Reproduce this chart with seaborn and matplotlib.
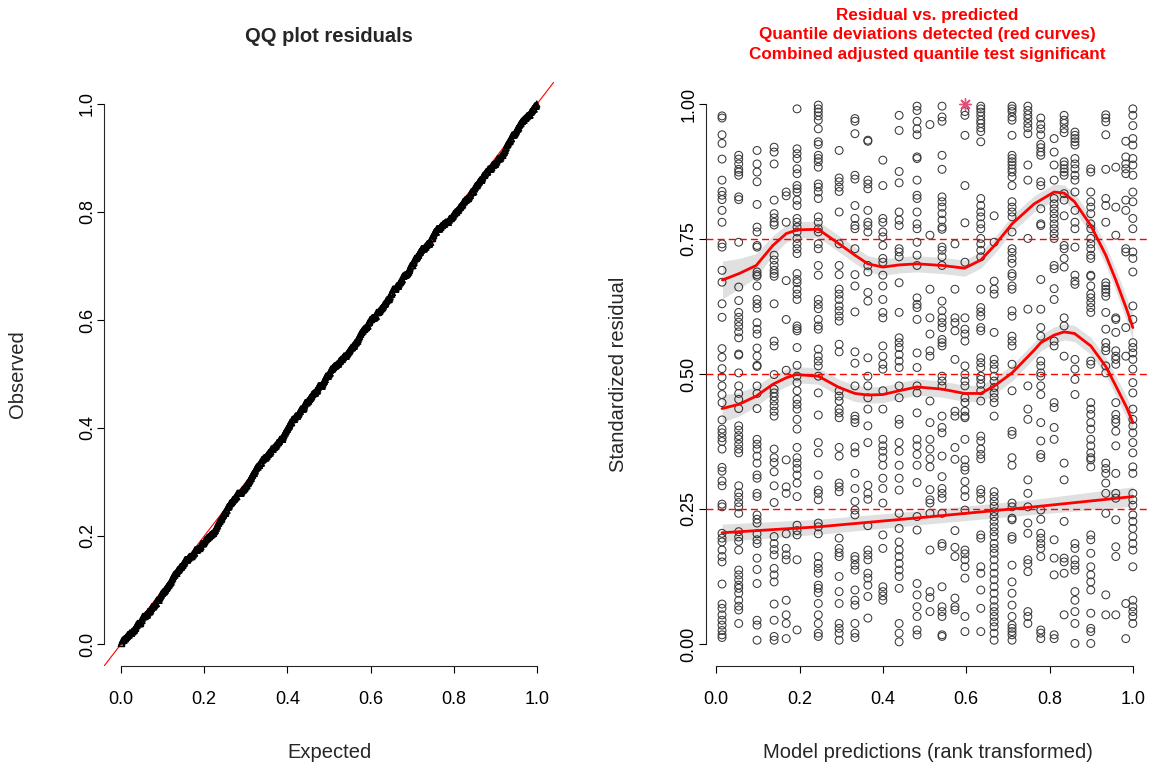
import numpy as np
import pandas as pd
import matplotlib
matplotlib.use("Agg")
import matplotlib.pyplot as plt
import seaborn as sns

# ---------------------------------------------------------------------------
# Scaled (quantile) residuals grouped by rank-transformed model prediction
# ---------------------------------------------------------------------------
pred_x = [0.014, 0.054, 0.098, 0.139, 0.168, 0.194, 0.245, 0.295, 0.333, 0.364,
          0.400, 0.439, 0.482, 0.513, 0.542, 0.573, 0.597, 0.635, 0.667, 0.710,
          0.748, 0.779, 0.811, 0.835, 0.861, 0.899, 0.935, 0.959, 0.983, 1.000]

r01 = [0.978, 0.974, 0.943, 0.927, 0.898, 0.859, 0.838, 0.831, 0.823, 0.803, 0.781, 0.741, 0.735,
       0.692, 0.670, 0.630, 0.605, 0.547, 0.531, 0.510, 0.494, 0.478, 0.462, 0.447, 0.415, 0.398,
       0.391, 0.382, 0.375, 0.361, 0.327, 0.320, 0.302, 0.293, 0.259, 0.254, 0.205, 0.196, 0.189,
       0.174, 0.162, 0.152, 0.111, 0.074, 0.066, 0.054, 0.044, 0.035, 0.025, 0.017, 0.012]
r02 = [0.905, 0.898, 0.889, 0.879, 0.874, 0.868, 0.828, 0.823, 0.744, 0.661, 0.636, 0.614, 0.605,
       0.596, 0.588, 0.578, 0.567, 0.537, 0.535, 0.502, 0.478, 0.464, 0.453, 0.436, 0.404, 0.396,
       0.386, 0.379, 0.370, 0.361, 0.354, 0.293, 0.280, 0.272, 0.262, 0.254, 0.242, 0.208, 0.198,
       0.190, 0.174, 0.137, 0.128, 0.119, 0.109, 0.103, 0.094, 0.081, 0.070, 0.063, 0.038]
r03 = [0.914, 0.889, 0.874, 0.856, 0.814, 0.772, 0.763, 0.738, 0.735, 0.689, 0.684, 0.681, 0.663,
       0.638, 0.630, 0.622, 0.595, 0.583, 0.574, 0.548, 0.533, 0.516, 0.514, 0.478, 0.464, 0.436,
       0.379, 0.370, 0.361, 0.348, 0.335, 0.313, 0.307, 0.279, 0.273, 0.239, 0.231, 0.224, 0.204,
       0.193, 0.186, 0.159, 0.138, 0.112, 0.044, 0.035, 0.007]
r04 = [0.920, 0.911, 0.889, 0.822, 0.797, 0.789, 0.781, 0.776, 0.720, 0.711, 0.701, 0.692, 0.686,
       0.681, 0.630, 0.561, 0.552, 0.499, 0.472, 0.465, 0.458, 0.450, 0.441, 0.431, 0.422, 0.361,
       0.345, 0.336, 0.319, 0.293, 0.262, 0.199, 0.186, 0.175, 0.165, 0.140, 0.128, 0.115, 0.074,
       0.044, 0.014, 0.007]
r05 = [0.837, 0.830, 0.781, 0.673, 0.601, 0.507, 0.341, 0.291, 0.279, 0.204, 0.177, 0.165, 0.156,
       0.081, 0.054, 0.038, 0.010]
r06 = [0.991, 0.917, 0.908, 0.899, 0.880, 0.871, 0.849, 0.843, 0.837, 0.822, 0.812, 0.788, 0.781,
       0.772, 0.763, 0.751, 0.741, 0.732, 0.723, 0.686, 0.675, 0.669, 0.657, 0.648, 0.638, 0.589,
       0.584, 0.580, 0.549, 0.516, 0.496, 0.484, 0.469, 0.453, 0.444, 0.435, 0.416, 0.398, 0.364,
       0.345, 0.335, 0.325, 0.313, 0.298, 0.273, 0.220, 0.210, 0.202, 0.156, 0.026]
r07 = [0.998, 0.991, 0.985, 0.978, 0.970, 0.954, 0.930, 0.925, 0.905, 0.899, 0.893, 0.883, 0.852,
       0.846, 0.837, 0.825, 0.791, 0.781, 0.769, 0.763, 0.741, 0.732, 0.701, 0.683, 0.638, 0.629,
       0.621, 0.601, 0.589, 0.583, 0.546, 0.533, 0.524, 0.515, 0.496, 0.465, 0.424, 0.373, 0.354,
       0.313, 0.285, 0.279, 0.267, 0.224, 0.217, 0.204, 0.162, 0.149, 0.140, 0.131, 0.109, 0.103,
       0.095, 0.075, 0.054, 0.038, 0.020, 0.014]
r08 = [0.914, 0.863, 0.856, 0.846, 0.838, 0.800, 0.741, 0.701, 0.684, 0.657, 0.648, 0.638, 0.626,
       0.617, 0.607, 0.598, 0.555, 0.541, 0.469, 0.459, 0.450, 0.435, 0.428, 0.419, 0.364, 0.348,
       0.298, 0.291, 0.282, 0.196, 0.177, 0.169, 0.162, 0.125, 0.097, 0.075, 0.038, 0.029, 0.020,
       0.007]
r09 = [0.973, 0.968, 0.945, 0.868, 0.861, 0.812, 0.788, 0.775, 0.769, 0.732, 0.684, 0.663, 0.615,
       0.541, 0.520, 0.478, 0.422, 0.416, 0.410, 0.365, 0.354, 0.316, 0.288, 0.264, 0.248, 0.239,
       0.162, 0.156, 0.146, 0.137, 0.100, 0.081, 0.072, 0.038, 0.020, 0.012]
r10 = [0.933, 0.931, 0.859, 0.852, 0.843, 0.803, 0.781, 0.775, 0.763, 0.701, 0.689, 0.651, 0.635,
       0.530, 0.496, 0.478, 0.456, 0.435, 0.404, 0.373, 0.294, 0.279, 0.268, 0.219, 0.174, 0.165,
       0.156, 0.131, 0.122, 0.109, 0.088, 0.048]
r11 = [0.896, 0.849, 0.788, 0.781, 0.763, 0.754, 0.738, 0.714, 0.707, 0.683, 0.663, 0.638, 0.614,
       0.604, 0.552, 0.533, 0.518, 0.509, 0.469, 0.435, 0.379, 0.367, 0.357, 0.345, 0.331, 0.307,
       0.288, 0.261, 0.202, 0.177, 0.106, 0.097, 0.089, 0.081]
r12 = [0.979, 0.951, 0.875, 0.854, 0.800, 0.785, 0.775, 0.732, 0.726, 0.717, 0.669, 0.614, 0.567,
       0.558, 0.549, 0.536, 0.524, 0.512, 0.478, 0.456, 0.416, 0.407, 0.373, 0.357, 0.331, 0.307,
       0.285, 0.242, 0.214, 0.189, 0.174, 0.162, 0.149, 0.137, 0.125, 0.103, 0.038, 0.020, 0.004]
r13 = [0.996, 0.988, 0.968, 0.954, 0.943, 0.902, 0.899, 0.859, 0.831, 0.825, 0.800, 0.778, 0.769,
       0.744, 0.720, 0.701, 0.641, 0.629, 0.623, 0.601, 0.539, 0.512, 0.478, 0.465, 0.428, 0.379,
       0.367, 0.351, 0.331, 0.299, 0.236, 0.211, 0.112, 0.091, 0.069, 0.051, 0.026, 0.017]
r14 = [0.962, 0.757, 0.657, 0.604, 0.574, 0.543, 0.533, 0.450, 0.410, 0.379, 0.361, 0.343, 0.328,
       0.286, 0.267, 0.261, 0.242, 0.174, 0.097, 0.086, 0.060]
r15 = [0.996, 0.976, 0.968, 0.905, 0.879, 0.828, 0.819, 0.809, 0.797, 0.785, 0.772, 0.768, 0.735,
       0.729, 0.717, 0.701, 0.635, 0.617, 0.604, 0.595, 0.586, 0.564, 0.558, 0.552, 0.496, 0.487,
       0.478, 0.422, 0.401, 0.391, 0.348, 0.310, 0.288, 0.279, 0.270, 0.242, 0.186, 0.181, 0.106,
       0.069, 0.060, 0.051, 0.017, 0.014]
r16 = [0.741, 0.657, 0.604, 0.595, 0.580, 0.527, 0.431, 0.422, 0.364, 0.342, 0.210, 0.179, 0.162,
       0.085, 0.069, 0.063]
r17 = [0.986, 0.979, 0.942, 0.849, 0.780, 0.707, 0.604, 0.583, 0.574, 0.561, 0.515, 0.499, 0.487,
       0.478, 0.456, 0.447, 0.431, 0.422, 0.419, 0.379, 0.341, 0.328, 0.322, 0.301, 0.285, 0.273,
       0.248, 0.174, 0.167, 0.156, 0.143, 0.122, 0.051, 0.023]
r18 = [0.996, 0.991, 0.985, 0.978, 0.970, 0.964, 0.956, 0.949, 0.930, 0.825, 0.812, 0.800, 0.791,
       0.778, 0.769, 0.751, 0.741, 0.729, 0.717, 0.657, 0.623, 0.615, 0.607, 0.586, 0.580, 0.530,
       0.521, 0.512, 0.496, 0.490, 0.481, 0.469, 0.450, 0.385, 0.376, 0.361, 0.351, 0.343, 0.286,
       0.279, 0.268, 0.202, 0.196, 0.143, 0.131, 0.100, 0.066, 0.023]
r19 = [0.793, 0.744, 0.672, 0.657, 0.648, 0.577, 0.527, 0.518, 0.509, 0.496, 0.487, 0.475, 0.465,
       0.456, 0.447, 0.422, 0.282, 0.273, 0.264, 0.255, 0.245, 0.236, 0.227, 0.217, 0.208, 0.199,
       0.186, 0.177, 0.168, 0.156, 0.143, 0.131, 0.119, 0.106, 0.094, 0.081, 0.069, 0.060, 0.051,
       0.041, 0.032, 0.020, 0.007]
r20 = [0.996, 0.991, 0.986, 0.976, 0.970, 0.942, 0.905, 0.899, 0.893, 0.887, 0.880, 0.874, 0.865,
       0.849, 0.819, 0.809, 0.800, 0.791, 0.763, 0.732, 0.725, 0.714, 0.705, 0.686, 0.681, 0.663,
       0.657, 0.617, 0.607, 0.570, 0.561, 0.552, 0.518, 0.469, 0.394, 0.388, 0.345, 0.331, 0.261,
       0.254, 0.233, 0.230, 0.199, 0.194, 0.146, 0.115, 0.094, 0.072, 0.051, 0.035, 0.029, 0.023,
       0.017, 0.007]
r21 = [0.996, 0.988, 0.980, 0.973, 0.964, 0.956, 0.945, 0.887, 0.859, 0.751, 0.620, 0.478, 0.435,
       0.416, 0.304, 0.279, 0.254, 0.224, 0.205, 0.156, 0.149, 0.134, 0.060, 0.051, 0.038]
r22 = [0.974, 0.962, 0.954, 0.943, 0.925, 0.919, 0.911, 0.905, 0.856, 0.849, 0.806, 0.778, 0.775,
       0.675, 0.620, 0.586, 0.570, 0.524, 0.515, 0.502, 0.496, 0.478, 0.462, 0.410, 0.376, 0.351,
       0.345, 0.248, 0.231, 0.205, 0.196, 0.186, 0.177, 0.162, 0.026, 0.020, 0.010]
r23 = [0.936, 0.911, 0.887, 0.859, 0.825, 0.815, 0.806, 0.797, 0.788, 0.778, 0.769, 0.760, 0.751,
       0.701, 0.695, 0.658, 0.638, 0.561, 0.552, 0.447, 0.438, 0.401, 0.379, 0.193, 0.159, 0.128,
       0.017, 0.010]
r24 = [0.979, 0.970, 0.964, 0.954, 0.947, 0.893, 0.887, 0.880, 0.874, 0.868, 0.834, 0.822, 0.793,
       0.738, 0.732, 0.714, 0.698, 0.604, 0.589, 0.533, 0.335, 0.304, 0.227, 0.159, 0.152, 0.131,
       0.054]
r25 = [0.948, 0.942, 0.936, 0.930, 0.924, 0.899, 0.889, 0.880, 0.868, 0.859, 0.837, 0.803, 0.781,
       0.769, 0.735, 0.683, 0.672, 0.666, 0.527, 0.509, 0.490, 0.462, 0.186, 0.177, 0.156, 0.146,
       0.137, 0.097, 0.081, 0.060, 0.038, 0.001]
r26 = [0.880, 0.874, 0.837, 0.819, 0.809, 0.797, 0.778, 0.769, 0.751, 0.741, 0.732, 0.720, 0.714,
       0.683, 0.681, 0.663, 0.648, 0.641, 0.632, 0.623, 0.614, 0.524, 0.518, 0.447, 0.435, 0.425,
       0.410, 0.398, 0.379, 0.367, 0.354, 0.345, 0.341, 0.328, 0.202, 0.193, 0.168, 0.143, 0.128,
       0.115, 0.100, 0.057, 0.029, 0.023, 0.001]
r27 = [0.980, 0.974, 0.967, 0.943, 0.879, 0.825, 0.812, 0.781, 0.669, 0.663, 0.657, 0.651, 0.644,
       0.614, 0.583, 0.558, 0.549, 0.543, 0.515, 0.502, 0.335, 0.325, 0.316, 0.298, 0.279, 0.242,
       0.091, 0.054]
r28 = [0.883, 0.809, 0.757, 0.604, 0.601, 0.577, 0.543, 0.533, 0.527, 0.518, 0.447, 0.425, 0.416,
       0.410, 0.394, 0.367, 0.316, 0.279, 0.270, 0.230, 0.180, 0.162, 0.054]
r29 = [0.931, 0.902, 0.889, 0.880, 0.871, 0.822, 0.803, 0.732, 0.726, 0.586, 0.533, 0.075, 0.010]
r30 = [0.991, 0.979, 0.960, 0.936, 0.924, 0.899, 0.887, 0.868, 0.837, 0.819, 0.788, 0.769, 0.726,
       0.714, 0.689, 0.626, 0.601, 0.558, 0.549, 0.539, 0.527, 0.509, 0.484, 0.465, 0.435, 0.416,
       0.404, 0.391, 0.373, 0.354, 0.328, 0.316, 0.279, 0.267, 0.257, 0.239, 0.227, 0.214, 0.199,
       0.186, 0.174, 0.143, 0.081, 0.069, 0.060, 0.051, 0.038]

# residual flagged as outlier (drawn as a star)
outlier_x = [0.597]
outlier_y = [1.000]

# fitted quantile regressions (tau = 0.75, 0.5, 0.25) with half-width of their bands
q75_x = [0.015, 0.055, 0.096, 0.136, 0.168, 0.195, 0.245, 0.295, 0.333, 0.364, 0.400, 0.439,
         0.482, 0.542, 0.596, 0.635, 0.668, 0.710, 0.763, 0.811, 0.835, 0.860, 0.899, 0.935,
         0.959, 0.985, 1.000]
q75_y = [0.674, 0.686, 0.701, 0.738, 0.760, 0.767, 0.768, 0.741, 0.720, 0.704, 0.698, 0.702,
         0.704, 0.701, 0.696, 0.711, 0.738, 0.778, 0.815, 0.837, 0.835, 0.819, 0.775, 0.720,
         0.674, 0.620, 0.586]
q75_hw = [0.035, 0.028, 0.022, 0.018, 0.016, 0.015, 0.015, 0.015, 0.015, 0.015, 0.015, 0.015,
          0.015, 0.015, 0.015, 0.015, 0.015, 0.015, 0.015, 0.015, 0.015, 0.016, 0.017, 0.018,
          0.020, 0.022, 0.025]

q50_x = [0.014, 0.055, 0.096, 0.136, 0.168, 0.192, 0.245, 0.295, 0.333, 0.364, 0.400, 0.439,
         0.482, 0.542, 0.596, 0.635, 0.668, 0.710, 0.763, 0.779, 0.811, 0.835, 0.860, 0.899,
         0.935, 0.959, 0.985, 1.000]
q50_y = [0.436, 0.444, 0.459, 0.481, 0.493, 0.499, 0.496, 0.475, 0.464, 0.461, 0.462, 0.469,
         0.476, 0.472, 0.464, 0.464, 0.478, 0.502, 0.544, 0.558, 0.572, 0.578, 0.575, 0.552,
         0.514, 0.478, 0.438, 0.410]
q50_hw = [0.025, 0.022, 0.019, 0.017, 0.016, 0.015, 0.015, 0.015, 0.015, 0.015, 0.015, 0.015,
          0.015, 0.015, 0.015, 0.015, 0.015, 0.015, 0.015, 0.015, 0.015, 0.015, 0.015, 0.016,
          0.017, 0.018, 0.020, 0.022]

q25_x = [0.014, 0.245, 0.504, 0.763, 1.000]
q25_y = [0.206, 0.217, 0.235, 0.254, 0.273]
q25_hw = [0.016, 0.014, 0.013, 0.014, 0.018]

quantile_levels = [0.25, 0.50, 0.75]

# ---------------------------------------------------------------------------
columns = [r01, r02, r03, r04, r05, r06, r07, r08, r09, r10, r11, r12, r13, r14, r15,
           r16, r17, r18, r19, r20, r21, r22, r23, r24, r25, r26, r27, r28, r29, r30]
resid = pd.DataFrame(
    [(px, r) for px, col in zip(pred_x, columns) for r in col],
    columns=["predicted", "residual"],
)

# QQ data: sorted residuals against uniform plotting positions
observed = np.sort(np.concatenate([resid["residual"].to_numpy(), outlier_y]))
n = observed.size
expected = (np.arange(1, n + 1) - 0.5) / n

# ---------------------------------------------------------------------------
sns.set_style("ticks")
plt.rcParams["font.family"] = ["Liberation Sans", "DejaVu Sans"]
plt.rcParams["axes.linewidth"] = 0.8

W, H = 1153, 769
# plot regions (pixels): R-style 4% padding around the data range
L1, R1 = 104.4, 553.6
L2, R2 = 705.6, 1149.3
TOP, BOT = 82.4, 665.6
fig = plt.figure(figsize=(W / 100, H / 100), dpi=100)
ax1 = fig.add_axes([L1 / W, 1 - BOT / H, (R1 - L1) / W, (BOT - TOP) / H])
ax2 = fig.add_axes([L2 / W, 1 - BOT / H, (R2 - L2) / W, (BOT - TOP) / H])

# --- left: QQ plot ---------------------------------------------------------
ax1.axline((0, 0), slope=1, color="red", lw=0.8, zorder=1)
sns.scatterplot(x=expected, y=observed, marker="^", s=20, facecolor="none",
                edgecolor="black", linewidth=0.8, ax=ax1, zorder=2)

# --- right: residual vs predicted -------------------------------------------
sns.scatterplot(data=resid, x="predicted", y="residual", marker="o", s=32,
                facecolor="none", edgecolor="#383838", linewidth=0.75, ax=ax2, zorder=2)
sns.scatterplot(x=outlier_x, y=outlier_y, marker=(8, 2, 0), s=70, color="#e2507a",
                linewidth=1.0, ax=ax2, zorder=3)

for qx, qy, hw in [(q25_x, q25_y, q25_hw), (q50_x, q50_y, q50_hw), (q75_x, q75_y, q75_hw)]:
    qy_arr, hw_arr = np.asarray(qy), np.asarray(hw)
    ax2.fill_between(qx, qy_arr - hw_arr, qy_arr + hw_arr, color="black", alpha=0.12,
                     lw=0, zorder=3)
    sns.lineplot(x=qx, y=qy, color="red", lw=2.0, sort=False, estimator=None, ax=ax2, zorder=4)

for q in quantile_levels:
    ax2.axhline(q, color="red", lw=1.0, ls=(0, (5, 3)), zorder=4)

# --- axes styling -------------------------------------------------------------
ax1.set_xlim(-0.04, 1.04)
ax2.set_xlim(0.014 - 0.04 * 0.986, 1.0 + 0.04 * 0.986)
for ax in (ax1, ax2):
    ax.set_ylim(-0.04, 1.04)
    sns.despine(ax=ax)
    ax.spines["left"].set_bounds(0, 1)
    ax.spines["bottom"].set_bounds(0, 1)
    ax.tick_params(axis="both", direction="out", length=5, width=0.8, labelsize=13,
                   colors="black")
    ax.tick_params(axis="x", pad=13)
    ax.tick_params(axis="y", pad=1)
    ax.set_xticks([0, 0.2, 0.4, 0.6, 0.8, 1.0])
    ax.set_xticklabels(["0.0", "0.2", "0.4", "0.6", "0.8", "1.0"])

ax1.set_yticks([0, 0.2, 0.4, 0.6, 0.8, 1.0])
ax1.set_yticklabels(["0.0", "0.2", "0.4", "0.6", "0.8", "1.0"], rotation=90, va="center")
ax2.set_yticks([0, 0.25, 0.5, 0.75, 1.0])
ax2.set_yticklabels(["0.00", "0.25", "0.50", "0.75", "1.00"], rotation=90, va="center")

ax1.set_xlabel("Expected", fontsize=14.5)
ax1.set_ylabel("Observed", fontsize=14.5)
ax2.set_xlabel("Model predictions (rank transformed)", fontsize=14.5)
ax2.set_ylabel("Standardized residual", fontsize=14.5)
for ax, left, right, ylab_x in ((ax1, L1, R1, 18), (ax2, L2, R2, 618)):
    ax.xaxis.set_label_coords(0.5, (BOT - 752) / (BOT - TOP))
    ax.xaxis.label.set_va("center")
    ax.yaxis.set_label_coords((ylab_x - left) / (right - left), 0.5)
    ax.yaxis.label.set_va("center")

ax1.set_title("QQ plot residuals", fontsize=14.5, fontweight="bold",
              y=(BOT - 37) / (BOT - TOP), va="center", pad=0)
ax2.set_title("Residual vs. predicted\nQuantile deviations detected (red curves)\n"
              "Combined adjusted quantile test significant",
              fontsize=12.3, fontweight="bold", color="red", linespacing=1.38,
              y=(BOT - 35) / (BOT - TOP), va="center", pad=0)

fig.savefig("out.png", dpi=100)
